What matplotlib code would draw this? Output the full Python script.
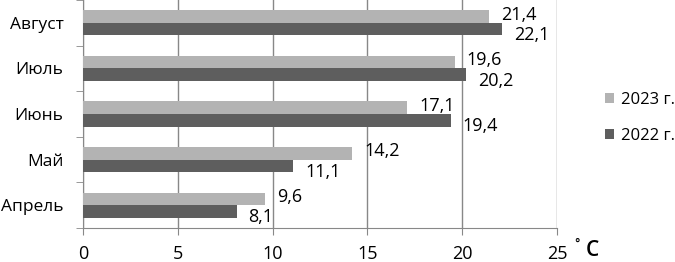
import matplotlib.pyplot as plt
import numpy as np

months = ["Апрель", "Май", "Июнь", "Июль", "Август"]
t2023 = [9.6, 14.2, 17.1, 19.6, 21.4]
t2022 = [8.1, 11.1, 19.4, 20.2, 22.1]
series_labels = ["2023 г.", "2022 г."]
xticks = [0, 5, 10, 15, 20, 25]

plt.rcParams['font.family'] = ['Open Sans', 'DejaVu Sans']

fig = plt.figure(figsize=(6.75, 2.62), dpi=100)
ax = fig.add_axes([83 / 675, 34 / 262, 474 / 675, 228 / 262])

y = np.arange(len(months))
h = 0.275
light, dark = "#b3b3b3", "#5e5e5e"
ax.barh(y + h / 2, t2023, height=h, color=light, label=series_labels[0], zorder=3)
ax.barh(y - h / 2, t2022, height=h, color=dark, label=series_labels[1], zorder=3)

# value labels, Excel-style offsets
for yi, v in zip(y, t2023):
    ax.annotate(f"{v:.1f}".replace(".", ","), (v, yi + h / 2), xytext=(12, 2),
                textcoords="offset pixels", va="center", ha="left", fontsize=13)
for yi, v in zip(y, t2022):
    ax.annotate(f"{v:.1f}".replace(".", ","), (v, yi - h / 2), xytext=(12, -6),
                textcoords="offset pixels", va="center", ha="left", fontsize=13)

ax.set_xlim(0, 25)
ax.set_ylim(-0.5, len(months) - 0.5)
ax.set_xticks(xticks)
ax.set_yticks(y)
ax.set_yticklabels(months)
ax.set_yticks(np.arange(-0.5, len(months)), minor=True)
ax.tick_params(axis="y", which="major", length=0, labelsize=12.5, pad=14)
ax.tick_params(axis="y", which="minor", length=5, color="#888888")
ax.tick_params(axis="x", length=5, color="#888888", labelsize=13, pad=7)
ax.grid(axis="x", color="#888888", linewidth=1, zorder=0)
for s in ["top", "right"]:
    ax.spines[s].set_visible(False)
for s in ["left", "bottom"]:
    ax.spines[s].set_color("#888888")

fig.text(577 / 675, 1 - 248 / 262, "˚", fontsize=13, ha="center", va="center")
fig.text(592 / 675, 1 - 250 / 262, "С", fontsize=15, ha="center", va="center",
         fontweight="semibold")

ax.legend(loc="center left", bbox_to_anchor=(590 / 675, 0.55), bbox_transform=fig.transFigure,
          frameon=False, fontsize=12, handlelength=0.55, handleheight=0.55,
          handletextpad=0.4, labelspacing=1.2)

fig.savefig("out.png", dpi=100)
